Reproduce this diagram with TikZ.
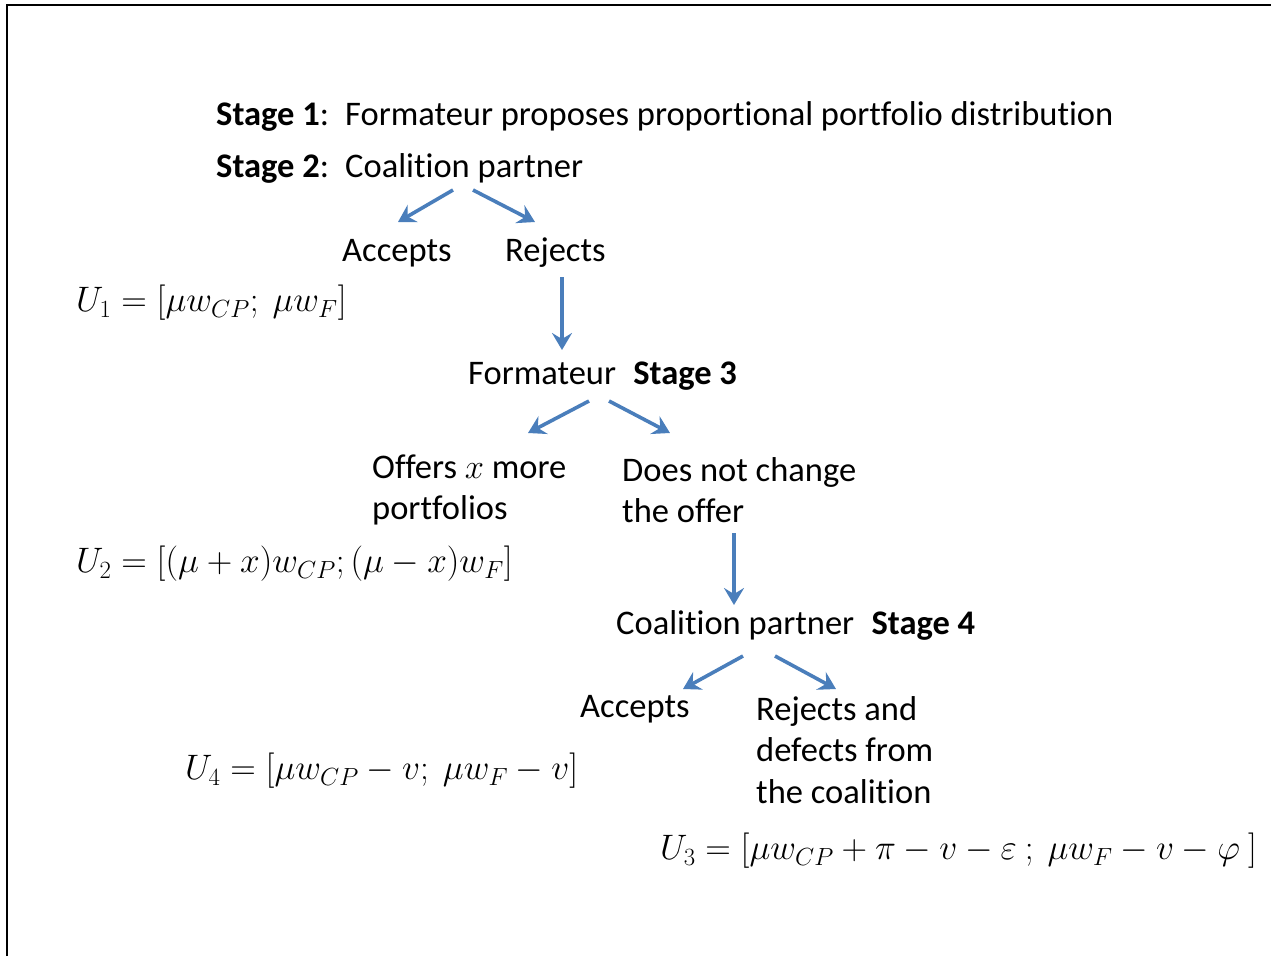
\documentclass[tikz,border=0pt]{standalone}
\usepackage{fix-cm}
\usepackage{fontspec}
\setmainfont{Carlito}[Ligatures=NoCommon]
\usetikzlibrary{arrows.meta}
\definecolor{arrblue}{HTML}{4A7EBB}
\tikzset{
  txt/.style={anchor=west, inner sep=0pt, align=left, font=\fontsize{34.5}{41.5}\selectfont},
  mth/.style={anchor=west, inner sep=0pt, font=\fontsize{35.4}{42}\selectfont},
  arr/.style={draw=arrblue, line width=3.6pt, -{Stealth[length=17pt, width=20pt, inset=6pt]}},
  frame/.style={line width=1.6pt}
}
\begin{document}
\begin{tikzpicture}[x=1pt, y=-1pt]
\useasboundingbox (0,0) rectangle (1271,956);
\draw[frame] (7,956) -- (7,5) -- (1271,5);

\node[txt] (s1) at (216,116) {\textbf{Stage 1}:\, Formateur proposes proportional portfolio distribution};
\node[txt] (s2) at (216,168) {\textbf{Stage 2}:\, Coalition partner};
\node[txt] (acc1) at (342,253) {Accepts};
\node[txt] (rej1) at (505,253) {Rejects};
\node[mth] (u1) at (76,303) {$U_1=[\mu w_{CP};\ \mu w_F]$};

\node[txt] (s3) at (468,376) {Formateur\enspace\textbf{Stage 3}};
\node[txt] (off) at (372,490) {Offers $x$ more\\portfolios};
\node[txt] (dnc) at (622,490) {Does not change\\the offer};
\node[mth] (u2) at (76,564) {$U_2=[(\mu+x)w_{CP};(\mu-x)w_F]$};

\node[txt] (s4) at (616,625) {Coalition partner\enspace\textbf{Stage 4}};
\node[txt] (acc2) at (580,709) {Accepts};
\node[txt] (rej2) at (756,750) {Rejects and\\defects from\\the coalition};
\node[mth] (u4) at (185,771) {$U_4=[\mu w_{CP}-v;\ \mu w_F-v]$};
\node[mth] (u3) at (660,851) {$U_3=[\mu w_{CP}+\pi-v-\varepsilon\ ;\ \mu w_F-v-\varphi\ ]$};

% arrow endpoints
\coordinate (a1s) at (453,190); \coordinate (a1e) at (398,222);
\coordinate (a2s) at (473,190); \coordinate (a2e) at (535,222);
\coordinate (a3s) at (562,277); \coordinate (a3e) at (562,350);
\coordinate (a4s) at (589,401); \coordinate (a4e) at (528,433);
\coordinate (a5s) at (609,401); \coordinate (a5e) at (670,433);
\coordinate (a6s) at (734,533); \coordinate (a6e) at (734,605);
\coordinate (a7s) at (743,656); \coordinate (a7e) at (683,689);
\coordinate (a8s) at (775,656); \coordinate (a8e) at (836,689);

\draw[arr] (a1s) -- (a1e);
\draw[arr] (a2s) -- (a2e);
\draw[arr] (a3s) -- (a3e);
\draw[arr] (a4s) -- (a4e);
\draw[arr] (a5s) -- (a5e);
\draw[arr] (a6s) -- (a6e);
\draw[arr] (a7s) -- (a7e);
\draw[arr] (a8s) -- (a8e);
\end{tikzpicture}
\end{document}
